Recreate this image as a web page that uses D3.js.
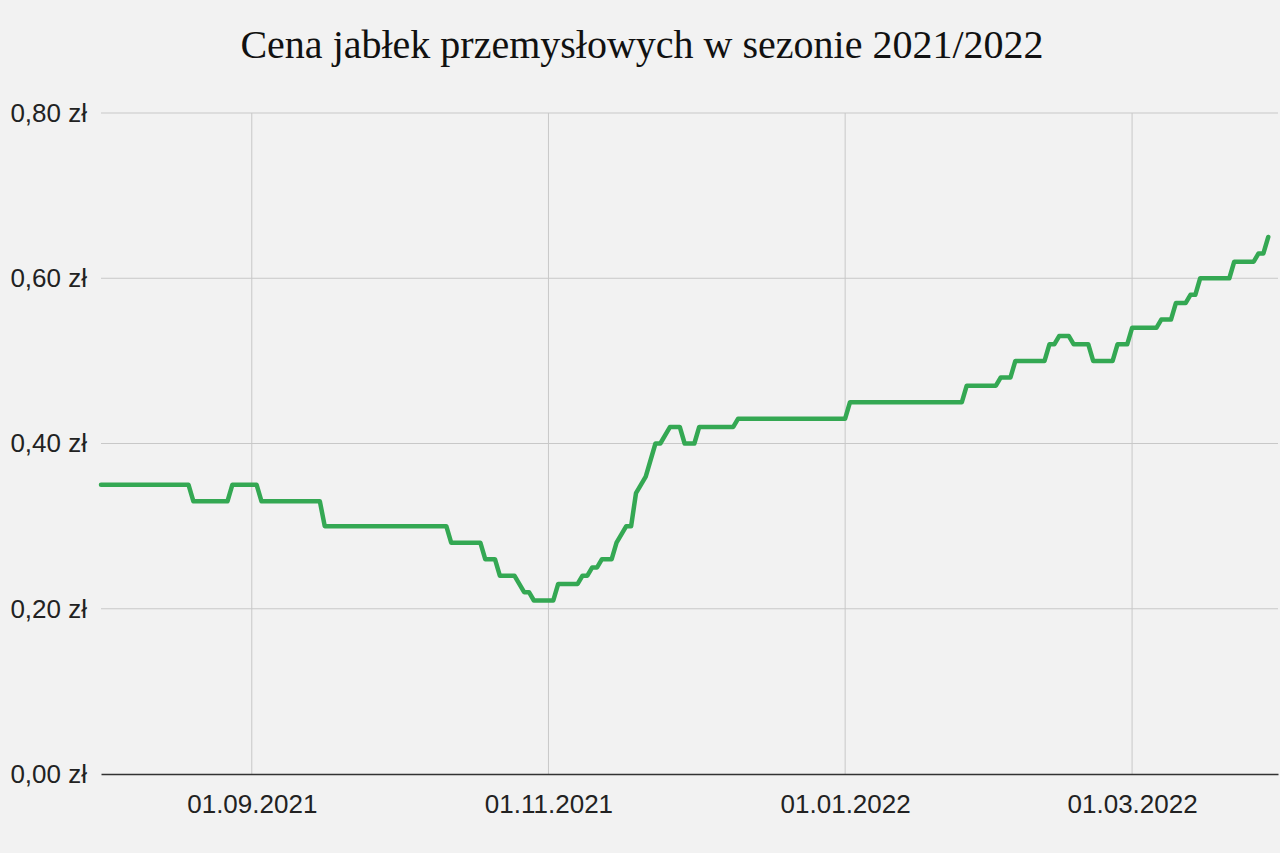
<!DOCTYPE html>
<html>
<head>
<meta charset="utf-8">
<title>Cena jabłek przemysłowych</title>
<style>
  html, body { margin: 0; padding: 0; background: #f2f2f2; }
  svg { display: block; }
</style>
</head>
<body>
<div id="chart"></div>
<script src="https://cdn.jsdelivr.net/npm/d3@7"></script>
<script>
// readings: dates where the price changes, and the price (zł/kg)
var dates = [
  "2021-08-01","2021-08-19","2021-08-20","2021-08-27","2021-08-28","2021-09-02","2021-09-03",
  "2021-09-15","2021-09-16","2021-10-11","2021-10-12","2021-10-18","2021-10-19","2021-10-21",
  "2021-10-22","2021-10-25","2021-10-26","2021-10-27","2021-10-28","2021-10-29","2021-11-02",
  "2021-11-03","2021-11-07","2021-11-08","2021-11-09","2021-11-10","2021-11-11","2021-11-12",
  "2021-11-14","2021-11-15","2021-11-16","2021-11-17","2021-11-18","2021-11-19","2021-11-20",
  "2021-11-21","2021-11-23","2021-11-24","2021-11-26","2021-11-28","2021-11-29","2021-12-01",
  "2021-12-02","2021-12-09","2021-12-10","2022-01-01","2022-01-02","2022-01-25","2022-01-26",
  "2022-02-01","2022-02-02","2022-02-04","2022-02-05","2022-02-11","2022-02-12","2022-02-13",
  "2022-02-14","2022-02-16","2022-02-17","2022-02-20","2022-02-21","2022-02-25","2022-02-26",
  "2022-02-28","2022-03-01","2022-03-06","2022-03-07","2022-03-09","2022-03-10","2022-03-12",
  "2022-03-13","2022-03-14","2022-03-15","2022-03-21","2022-03-22","2022-03-26","2022-03-27",
  "2022-03-28","2022-03-29"
];
var prices = [
  0.35, 0.35, 0.33, 0.33, 0.35, 0.35, 0.33,
  0.33, 0.30, 0.30, 0.28, 0.28, 0.26, 0.26,
  0.24, 0.24, 0.23, 0.22, 0.22, 0.21, 0.21,
  0.23, 0.23, 0.24, 0.24, 0.25, 0.25, 0.26,
  0.26, 0.28, 0.29, 0.30, 0.30, 0.34, 0.35,
  0.36, 0.40, 0.40, 0.42, 0.42, 0.40, 0.40,
  0.42, 0.42, 0.43, 0.43, 0.45, 0.45, 0.47,
  0.47, 0.48, 0.48, 0.50, 0.50, 0.52, 0.52,
  0.53, 0.53, 0.52, 0.52, 0.50, 0.50, 0.52,
  0.52, 0.54, 0.54, 0.55, 0.55, 0.57, 0.57,
  0.58, 0.58, 0.60, 0.60, 0.62, 0.62, 0.63,
  0.63, 0.65
];
var xTickDates = ["2021-09-01", "2021-11-01", "2022-01-01", "2022-03-01"];
var yTicks = [0, 0.2, 0.4, 0.6, 0.8];
var xRange = ["2021-08-01", "2022-03-31"];

var width = 1280, height = 853;
var margin = {top: 113, right: 2, bottom: 79, left: 101};
var parse = d3.timeParse("%Y-%m-%d");

var svg = d3.select("#chart").append("svg")
  .attr("width", width)
  .attr("height", height);

var x = d3.scaleTime()
  .domain(xRange.map(parse))
  .range([margin.left, width - margin.right]);

var y = d3.scaleLinear()
  .domain([0, 0.8])
  .range([height - margin.bottom, margin.top]);

var data = dates.map(function(d, i) { return {date: parse(d), value: prices[i]}; });

svg.append("text")
  .attr("x", 642)
  .attr("y", 58)
  .attr("text-anchor", "middle")
  .style("font-family", "'Liberation Serif', 'Times New Roman', serif")
  .style("font-size", "40px")
  .style("fill", "#111")
  .text("Cena jabłek przemysłowych w sezonie 2021/2022");

// horizontal grid
svg.append("g").selectAll("line")
  .data(yTicks.filter(function(d) { return d > 0; }))
  .enter().append("line")
  .attr("x1", margin.left)
  .attr("x2", width - margin.right)
  .attr("y1", function(d) { return y(d); })
  .attr("y2", function(d) { return y(d); })
  .style("stroke", "#c8c8c8")
  .style("stroke-width", 1);

// vertical grid
svg.append("g").selectAll("line")
  .data(xTickDates.map(parse))
  .enter().append("line")
  .attr("x1", function(d) { return x(d); })
  .attr("x2", function(d) { return x(d); })
  .attr("y1", margin.top)
  .attr("y2", height - margin.bottom)
  .style("stroke", "#c8c8c8")
  .style("stroke-width", 1);

var fmt = d3.format(".2f");

var yAxis = svg.append("g")
  .attr("transform", "translate(" + margin.left + ",0)")
  .call(d3.axisLeft(y).tickValues(yTicks).tickSize(0).tickPadding(14)
    .tickFormat(function(d) { return fmt(d).replace(".", ",") + " zł"; }));
yAxis.select(".domain").remove();

var xAxis = svg.append("g")
  .attr("transform", "translate(0," + (height - margin.bottom) + ")")
  .call(d3.axisBottom(x).tickValues(xTickDates.map(parse)).tickSize(0).tickPadding(21)
    .tickFormat(d3.timeFormat("%d.%m.%Y")));
xAxis.select(".domain")
  .style("stroke", "#333")
  .style("stroke-width", 1.5);

svg.selectAll(".tick text")
  .style("font-family", "'Liberation Sans', Arial, sans-serif")
  .style("font-size", "26px")
  .style("fill", "#222");

var line = d3.line()
  .x(function(d) { return x(d.date); })
  .y(function(d) { return y(d.value); });

svg.append("path")
  .datum(data)
  .attr("d", line)
  .style("fill", "none")
  .style("stroke", "#34a853")
  .style("stroke-width", 4.5)
  .style("stroke-linejoin", "round")
  .style("stroke-linecap", "round");
</script>
</body>
</html>
